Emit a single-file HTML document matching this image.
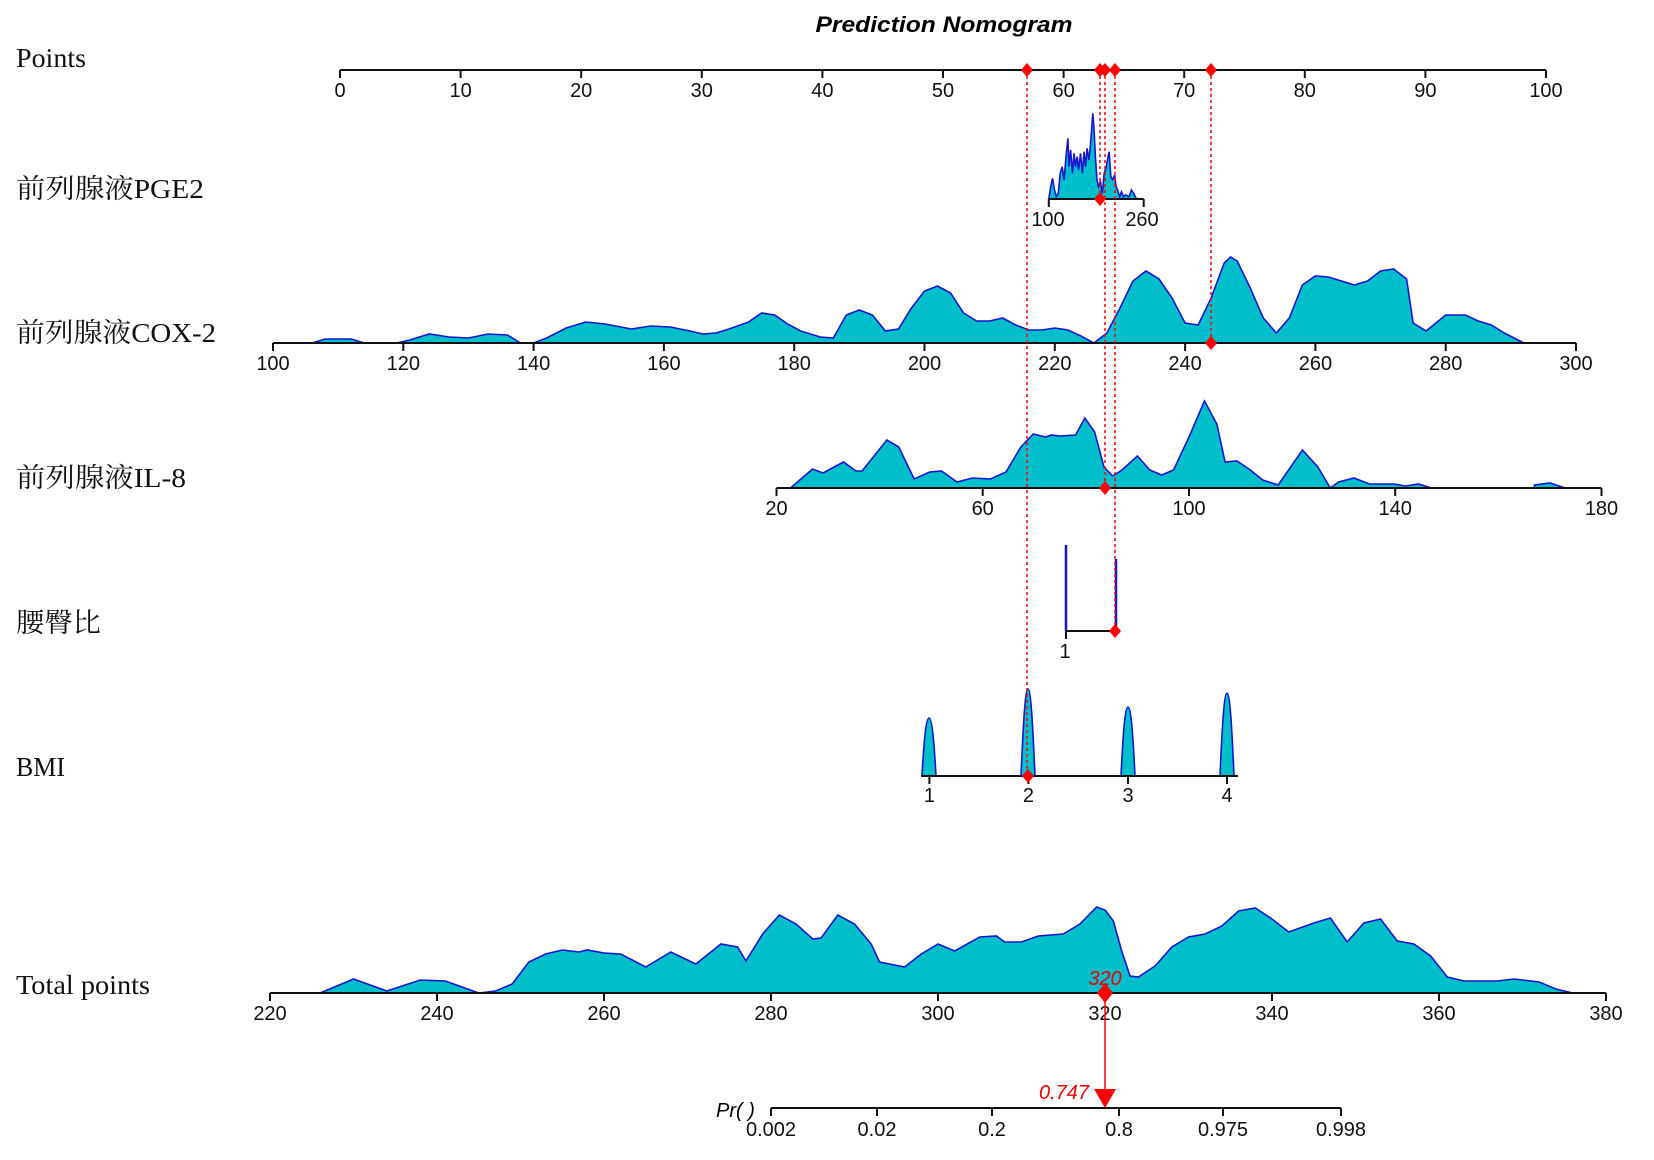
<!DOCTYPE html>
<html><head><meta charset="utf-8"><style>
html,body{margin:0;padding:0;background:#fff}
svg{display:block}
.lab{font-family:"Liberation Serif","Noto Serif CJK SC",serif;font-size:27px;fill:#111}
.tk{font-family:"Liberation Sans",sans-serif;font-size:20px;fill:#111;text-anchor:middle}
.ax{stroke:#111;stroke-width:2;fill:none}
.den{fill:#00BFCB;stroke:#1515CC;stroke-width:1.6}
.rd{stroke:#ff0000;stroke-width:1.5;stroke-dasharray:3,3;fill:none}
.mk{fill:#ff0000}
</style></head><body>
<svg width="1654" height="1160" viewBox="0 0 1654 1160" xmlns="http://www.w3.org/2000/svg">
<text x="944" y="32" text-anchor="middle" style="font-family:'Liberation Sans',sans-serif;font-size:22px;font-weight:bold;font-style:italic" textLength="257" lengthAdjust="spacingAndGlyphs">Prediction Nomogram</text>

<!-- labels -->
<text class="lab" x="16" y="67" textLength="70" lengthAdjust="spacingAndGlyphs">Points</text>
<text class="lab" x="16" y="198" textLength="188" lengthAdjust="spacingAndGlyphs">前列腺液PGE2</text>
<text class="lab" x="16" y="342" textLength="200" lengthAdjust="spacingAndGlyphs">前列腺液COX-2</text>
<text class="lab" x="16" y="487" textLength="170" lengthAdjust="spacingAndGlyphs">前列腺液IL-8</text>
<text class="lab" x="16" y="632" textLength="85" lengthAdjust="spacingAndGlyphs">腰臀比</text>
<text class="lab" x="16" y="776" textLength="49" lengthAdjust="spacingAndGlyphs">BMI</text>
<text class="lab" x="16" y="994" textLength="134" lengthAdjust="spacingAndGlyphs">Total points</text>

<!-- Points axis -->
<path class="ax" d="M340,70H1546 M340,70v8 M460.6,70v8 M581.2,70v8 M701.8,70v8 M822.4,70v8 M943,70v8 M1063.6,70v8 M1184.2,70v8 M1304.8,70v8 M1425.4,70v8 M1546,70v8"/>
<g class="tk"><text x="340" y="97">0</text><text x="460.6" y="97">10</text><text x="581.2" y="97">20</text><text x="701.8" y="97">30</text><text x="822.4" y="97">40</text><text x="943" y="97">50</text><text x="1063.6" y="97">60</text><text x="1184.2" y="97">70</text><text x="1304.8" y="97">80</text><text x="1425.4" y="97">90</text><text x="1546" y="97">100</text></g>

<!-- PGE2 -->
<polygon class="den" points="1048.8,199 1050.7,186.7 1052.6,178.3 1054.5,190 1056.4,196.7 1058.3,193.3 1060.2,173.3 1062.2,166.7 1064.1,180 1066,156.7 1067.9,138.3 1069,166.7 1070.6,150 1072.5,173.3 1074,153.3 1075.5,166.7 1077.1,156.7 1078.6,170 1080.5,153.3 1082.4,173.3 1084,151.7 1085.5,166.7 1087,148.3 1088.9,160 1090.9,140 1092.8,113.3 1093.9,126.7 1095.4,156.7 1097,180 1098.5,186.7 1100.4,181.7 1102.3,193.3 1104.2,173.3 1106.2,166.7 1108.1,156.7 1109.2,151.7 1110.8,176.7 1112.7,180 1114.6,175 1116.1,186.7 1117.6,190 1119.6,196.7 1121.5,191.7 1123.4,196.7 1125.3,195 1129.1,196.7 1131.4,190 1133.7,193.3 1135.2,196.7 1136.8,199"/>
<path class="ax" d="M1048.8,199H1143.7 M1048.8,199v8 M1143.7,199v8"/>
<g class="tk"><text x="1048" y="226">100</text><text x="1142" y="226">260</text></g>

<!-- COX-2 -->
<g transform="translate(-378.5,343) scale(6.515,-1)">
<polygon class="den" vector-effect="non-scaling-stroke" points="106,0 108,4 112,4 114,0 119,0 121,3 124,9 127,6 130,5 133,9 136,8 138,0 140,0 142,5 145,15 148,21 151,19 155,14 158,17 161,16 164,12 166,9 168,10 170,14 173,21 175,30 177,28 179,19 181,12 184,6 186,5 188,28 190,33 192,28 194,12 196,14 198,35 200,52 202,57 204,50 206,30 208,22 210,22 212,25 214,18 216,13 218,13 220,15 222,13 224,7 226,0 228,10 230,35 232,62 234,72 236,64 238,45 240,20 242,18 244,45 246,80 247,86 248,82 250,55 252,25 254,10 256,25 258,58 260,67 262,66 264,62 266,58 268,62 270,72 272,74 274,64 275,20 277,12 280,28 283,28 285,22 287,18 289,10 292,0"/>
</g>
<path class="ax" d="M273,343H1576 M273,343v8 M403.3,343v8 M533.6,343v8 M663.9,343v8 M794.2,343v8 M924.5,343v8 M1054.8,343v8 M1185.1,343v8 M1315.4,343v8 M1445.7,343v8 M1576,343v8"/>
<g class="tk"><text x="273" y="370">100</text><text x="403.3" y="370">120</text><text x="533.6" y="370">140</text><text x="663.9" y="370">160</text><text x="794.2" y="370">180</text><text x="924.5" y="370">200</text><text x="1054.8" y="370">220</text><text x="1185.1" y="370">240</text><text x="1315.4" y="370">260</text><text x="1445.7" y="370">280</text><text x="1576" y="370">300</text></g>

<!-- IL-8 -->
<g transform="translate(673.4,488) scale(5.156,-1)">
<polygon class="den" vector-effect="non-scaling-stroke" points="22.7,0 27,19 29,15 33,26 35.4,17 36.6,17 41.4,48 43.7,41 46.7,9 49.7,16 52,17 55,6 58,10 61.5,9 64.5,16 67.4,41 69.8,54 72.2,51 73.3,53 75,52 78,53 79.8,70 81.7,56 83.5,21 85.2,12 87,18 90,32 92.4,18 94.7,13 97,18 100,51 103,87 105.4,64 107,26 109.3,27 111.9,18 114.3,8 117.3,3 122,38 125,21 127.4,0 129,6 132,10 135,4 139.8,4 142,2 144.5,4 147,0 167,0 167,3 170,5 173,0"/>
</g>
<path class="ax" d="M776.5,488H1601.5 M776.5,488v8 M982.7,488v8 M1189,488v8 M1395.2,488v8 M1601.5,488v8"/>
<g class="tk"><text x="776.5" y="515">20</text><text x="982.7" y="515">60</text><text x="1189" y="515">100</text><text x="1395.2" y="515">140</text><text x="1601.5" y="515">180</text></g>

<!-- waist-hip -->
<path d="M1066,631V545 M1116,631V559" stroke="#1515CC" stroke-width="2.5" fill="none"/>
<path class="ax" d="M1066,631H1116 M1066,631v8"/>
<text class="tk" x="1065" y="658">1</text>

<!-- BMI -->
<g class="den">
<path d="M922,776 C924,740 926,718 929,718 C932,718 934,740 936,776Z"/>
<path d="M1021,776 C1023,730 1025,689 1028,689 C1031,689 1033,730 1035,776Z"/>
<path d="M1121,776 C1123,735 1125,707 1128,707 C1131,707 1133,735 1135,776Z"/>
<path d="M1220,776 C1222,730 1224,693 1227,693 C1230,693 1232,730 1234,776Z"/>
</g>
<path class="ax" d="M921,776H1238 M929.4,776v8 M1028.4,776v8 M1128,776v8 M1227,776v8"/>
<g class="tk"><text x="929.4" y="802">1</text><text x="1028.4" y="802">2</text><text x="1128" y="802">3</text><text x="1227" y="802">4</text></g>

<!-- Total points -->
<g transform="translate(-1567,993) scale(8.35,-1)">
<polygon class="den" vector-effect="non-scaling-stroke" points="226,0 230,14 234,2 238,13 241,12 245,0 247,2 249,9 251,31 253,39 255,43 257,41 258,43 260,40 262,39 265,26 268,41 271,29 274,49 276,46 277,32 279,59 281,78 283,69 285,54 286,55 288,78 290,69 292,49 293,31 296,26 298,39 300,49 302,42 305,56 307,57 308,51 310,51 312,57 315,59 317,69 319,86 320,83 321,72 322,42 323,17 324,16 326,27 328,46 330,56 332,59 334,67 336,82 338,85 340,74 342,61 345,70 347,75 349,51 351,70 353,74 355,52 357,49 359,37 361,16 363,12 367,12 369,14 372,11 374,4 376,0"/>
</g>
<path class="ax" d="M270,993H1606 M270,993v8 M437,993v8 M604,993v8 M771,993v8 M938,993v8 M1105,993v8 M1272,993v8 M1439,993v8 M1606,993v8"/>
<g class="tk"><text x="270" y="1020">220</text><text x="437" y="1020">240</text><text x="604" y="1020">260</text><text x="771" y="1020">280</text><text x="938" y="1020">300</text><text x="1105" y="1020">320</text><text x="1272" y="1020">340</text><text x="1439" y="1020">360</text><text x="1606" y="1020">380</text></g>

<!-- Pr axis -->
<path class="ax" d="M771,1108H1341 M771,1108v8 M877,1108v8 M992,1108v8 M1119,1108v8 M1223,1108v8 M1341,1108v8"/>
<g class="tk"><text x="771" y="1136">0.002</text><text x="877" y="1136">0.02</text><text x="992" y="1136">0.2</text><text x="1119" y="1136">0.8</text><text x="1223" y="1136">0.975</text><text x="1341" y="1136">0.998</text></g>
<text x="716" y="1117" style="font-family:'Liberation Sans',sans-serif;font-size:20px;font-style:italic">Pr(  )</text>

<!-- red lines -->
<path class="rd" d="M1027,70V776 M1100,70V199 M1105,70V488 M1115,70V631 M1211,70V343"/>
<g class="mk">
<path d="M1027,63l6,7l-6,7l-6,-7z"/><path d="M1100,63l6,7l-6,7l-6,-7z"/><path d="M1105,63l6,7l-6,7l-6,-7z"/><path d="M1115,63l6,7l-6,7l-6,-7z"/><path d="M1211,63l6,7l-6,7l-6,-7z"/>
<path d="M1100,192l6,7l-6,7l-6,-7z"/>
<path d="M1211,336l6,7l-6,7l-6,-7z"/>
<path d="M1105,481l6,7l-6,7l-6,-7z"/>
<path d="M1115,624l6,7l-6,7l-6,-7z"/>
<path d="M1028,769l6,7l-6,7l-6,-7z"/>
<path d="M1105,983l8,10l-8,10l-8,-10z"/>
<path d="M1094,1089h22l-11,19z"/>
</g>
<path d="M1105,993V1092" stroke="#ff0000" stroke-width="1.5"/>
<text x="1105" y="985" text-anchor="middle" style="font-family:'Liberation Sans',sans-serif;font-size:20px;font-style:italic;fill:#e00">320</text>
<text x="1089" y="1099" text-anchor="end" style="font-family:'Liberation Sans',sans-serif;font-size:20px;font-style:italic;fill:#e00">0.747</text>
</svg>
</body></html>
